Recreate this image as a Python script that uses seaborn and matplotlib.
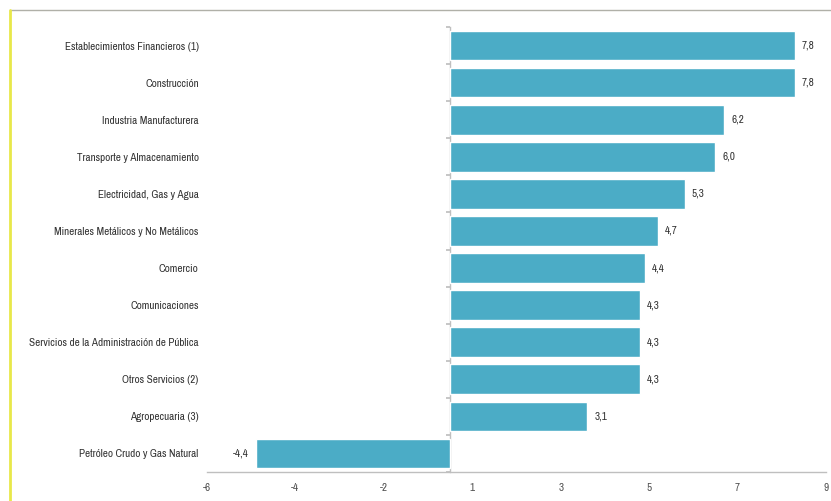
import matplotlib
matplotlib.use("Agg")
import matplotlib.pyplot as plt
from matplotlib.lines import Line2D
import seaborn as sns
import pandas as pd
import numpy as np

categories = [
    "Establecimientos Financieros (1)",
    "Construcción",
    "Industria Manufacturera",
    "Transporte y Almacenamiento",
    "Electricidad, Gas y Agua",
    "Minerales Metálicos y No Metálicos",
    "Comercio",
    "Comunicaciones",
    "Servicios de la Administración de Pública",
    "Otros Servicios (2)",
    "Agropecuaria (3)",
    "Petróleo Crudo y Gas Natural",
]
values = [7.8, 7.8, 6.2, 6.0, 5.3, 4.7, 4.4, 4.3, 4.3, 4.3, 3.1, -4.4]
xtick_labels = ["-6", "-4", "-2", "1", "3", "5", "7", "9"]

df = pd.DataFrame({"sector": categories, "valor": values})

sns.set_theme(style="white")
plt.rcParams["font.family"] = ["Archivo Narrow", "Liberation Sans", "DejaVu Sans"]

fig = plt.figure(figsize=(8.31, 5.01), dpi=100)
ax = fig.add_axes([207/831, 1-472/501, (826-207)/831, (472-27)/501])

sns.barplot(data=df, x="valor", y="sector", color="#4BACC6", saturation=1,
            width=0.8, ax=ax, orient="h")

xmin, xmax = -5.5, 8.5
ax.set_xlim(xmin, xmax)
ax.set_ylim(len(categories) - 0.5, -0.5)
ax.set_xlabel("")
ax.set_ylabel("")

ax.set_xticks(np.arange(xmin, xmax + 0.01, 2))
ax.set_xticklabels(xtick_labels)
ax.tick_params(axis="x", colors="#505050", labelsize=8, length=4, width=0.8,
               color="#bfbfbf", direction="out", pad=4)
ax.tick_params(axis="y", colors="#333333", labelsize=8, length=0, pad=6)

for s in ["top", "right", "left"]:
    ax.spines[s].set_visible(False)
ax.spines["bottom"].set_color("#bfbfbf")
ax.spines["bottom"].set_linewidth(1.0)

# vertical axis at zero
zero_pos = (0 - xmin) / (xmax - xmin)
sec = ax.secondary_yaxis(zero_pos)
sec.set_yticks(np.arange(-0.5, len(categories), 1))
sec.set_yticklabels([])
sec.tick_params(axis="y", length=3, color="#bfbfbf", direction="out")
sec.spines["left"].set_color("#bfbfbf")
sec.spines["left"].set_linewidth(1.0)

for i, v in enumerate(values):
    lbl = f"{v:.1f}".replace(".", ",")
    if v >= 0:
        ax.annotate(lbl, (v, i), xytext=(5, 0), textcoords="offset points",
                    ha="left", va="center", fontsize=8, color="#333333")
    else:
        ax.annotate(lbl, (v, i), xytext=(-5, 0), textcoords="offset points",
                    ha="right", va="center", fontsize=8, color="#333333")

# frame decorations
fig.add_artist(Line2D([10/831, 1], [1-10/501, 1-10/501], color="#b0b0a8",
                      lw=1.0, transform=fig.transFigure))
fig.add_artist(Line2D([10/831, 10/831], [0, 1-10/501], color="#e8e84a",
                      lw=2.0, transform=fig.transFigure))

fig.savefig("out.png", dpi=100)
